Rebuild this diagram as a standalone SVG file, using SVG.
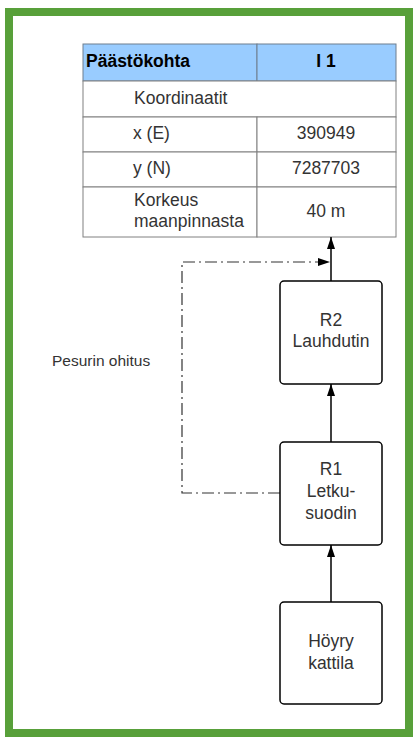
<svg xmlns="http://www.w3.org/2000/svg" width="417" height="739" viewBox="0 0 417 739">
<style>
text{font-family:"Liberation Sans",Arial,sans-serif;font-size:17.5px;fill:#333}
.b{font-weight:bold;fill:#000}
.c{text-anchor:middle}
.cell{fill:#fff;stroke:#808080;stroke-width:1}
.hdr{fill:#99ccff;stroke:#6f7f8f;stroke-width:1}
.box{fill:#fff;stroke:#000;stroke-width:1.5}
.ln{fill:none;stroke:#000;stroke-width:1.5}
.dd{fill:none;stroke:#333;stroke-width:1.2;stroke-dasharray:12,4,2,4}
</style>
<defs>
<marker id="ar" markerWidth="12" markerHeight="8" refX="12" refY="4" orient="auto" markerUnits="userSpaceOnUse" viewBox="0 0 12 8">
<path d="M0,0 L12,4 L0,8 Z" fill="#000"/>
</marker>
</defs>
<rect x="9" y="12" width="400" height="721" fill="#fff" stroke="#58a03a" stroke-width="8"/>
<g id="table">
<rect class="hdr" x="83" y="44" width="174" height="37"/>
<rect class="hdr" x="257" y="44" width="139" height="37"/>
<rect class="cell" x="83" y="81" width="313" height="36"/>
<rect class="cell" x="83" y="117" width="174" height="35"/>
<rect class="cell" x="257" y="117" width="139" height="35"/>
<rect class="cell" x="83" y="152" width="174" height="35"/>
<rect class="cell" x="257" y="152" width="139" height="35"/>
<rect class="cell" x="83" y="187" width="174" height="50"/>
<rect class="cell" x="257" y="187" width="139" height="50"/>
<text class="b" x="86" y="67">Päästökohta</text>
<text class="b c" x="326" y="67">I 1</text>
<text x="134" y="104">Koordinaatit</text>
<text x="133" y="139">x (E)</text>
<text class="c" x="326" y="139">390949</text>
<text x="133" y="174">y (N)</text>
<text class="c" x="326" y="174">7287703</text>
<text x="134" y="206">Korkeus</text>
<text x="134" y="227">maanpinnasta</text>
<text class="c" x="326" y="217">40 m</text>
</g>
<g id="connectors">
<line class="ln" x1="331" y1="281" x2="331" y2="237" marker-end="url(#ar)"/>
<line class="ln" x1="331" y1="442" x2="331" y2="384" marker-end="url(#ar)"/>
<line class="ln" x1="331" y1="602" x2="331" y2="545" marker-end="url(#ar)"/>
<polyline class="dd" points="280,493 182,493 182,262 330,262" marker-end="url(#ar)"/>
</g>
<g id="R2">
<rect class="box" x="280" y="281" width="102" height="103" rx="4"/>
<text class="c" x="331" y="326">R2</text>
<text class="c" x="331" y="347">Lauhdutin</text>
</g>
<g id="R1">
<rect class="box" x="280" y="442" width="102" height="103" rx="4"/>
<text class="c" x="331" y="475">R1</text>
<text class="c" x="331" y="497">Letku-</text>
<text class="c" x="331" y="519">suodin</text>
</g>
<g id="boiler">
<rect class="box" x="280" y="602" width="102" height="102" rx="4"/>
<text class="c" x="331" y="647">Höyry</text>
<text class="c" x="331" y="669">kattila</text>
</g>
<g id="label">
<text x="52" y="366" style="font-size:15.5px">Pesurin ohitus</text>
</g>
</svg>
